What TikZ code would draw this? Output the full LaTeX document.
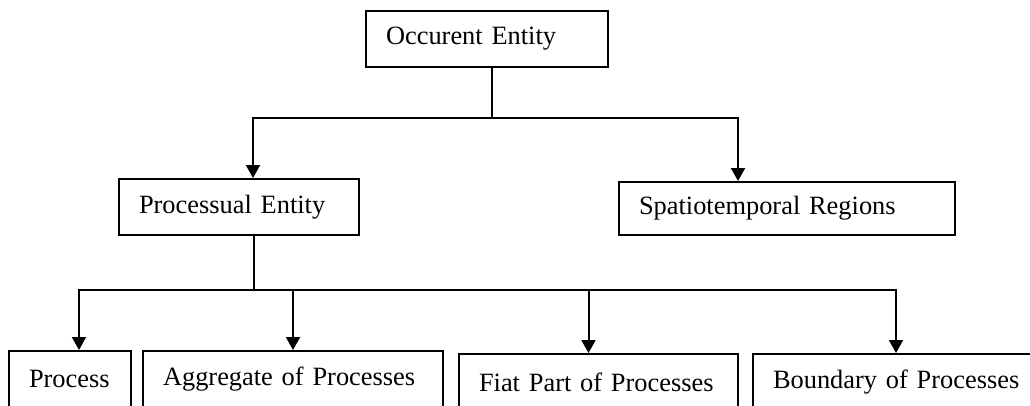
\documentclass[tikz,border=0pt]{standalone}
\usepackage{fontspec}
\setmainfont{Liberation Serif}
\usetikzlibrary{arrows.meta}
\hyphenpenalty=10000
\tikzset{
	box/.style={draw, line width=2pt, anchor=north west, align=left, inner xsep=20pt, inner ysep=0pt,
		minimum height=56pt, font=\fontsize{26.4}{30}\selectfont},
	arr/.style={line width=2pt, -{Triangle[length=13pt,width=14pt]}}
}
\begin{document}
\begin{tikzpicture}[x=1pt,y=-1pt]
		\useasboundingbox (0,0) rectangle (1030,405);
		\node[box, text width=202pt] (occ) at (365,10) {Occurent Entity};
		\node[box, text width=200pt] (proc) at (118,178) {Processual Entity};
		\node[box, text width=296pt, minimum height=53pt] (spat) at (618,181) {Spatiotemporal Regions};
		\node[box, text width=82pt] (process) at (8,350) {Process};
		\node[box, text width=260pt] (aggr) at (142,350) {Aggregate of Processes};
		\node[box, text width=239pt] (fiat) at (458,353) {Fiat Part of Processes};
		\node[box, text width=250pt] (bound) at (752,353) {Boundary of Processes};
		\coordinate (split1) at (492,118);
		\coordinate (split2) at (254,290);
		\draw[line width=2pt] (occ.south -| split1) -- (split1);
		\draw[arr] (split1) -| ([xshift=14pt]proc.north);
		\draw[arr] (split1) -| ([xshift=-49pt]spat.north);
		\draw[line width=2pt] (proc.south -| split2) -- (split2);
		\draw[arr] (split2) -| ([xshift=9pt]process.north);
		\draw[arr] (split2) -| (aggr.north);
		\draw[arr] (split2) -| ([xshift=-10pt]fiat.north);
		\draw[arr] (split2) -| ([xshift=-2pt]bound.north);
	\end{tikzpicture}
\end{document}
